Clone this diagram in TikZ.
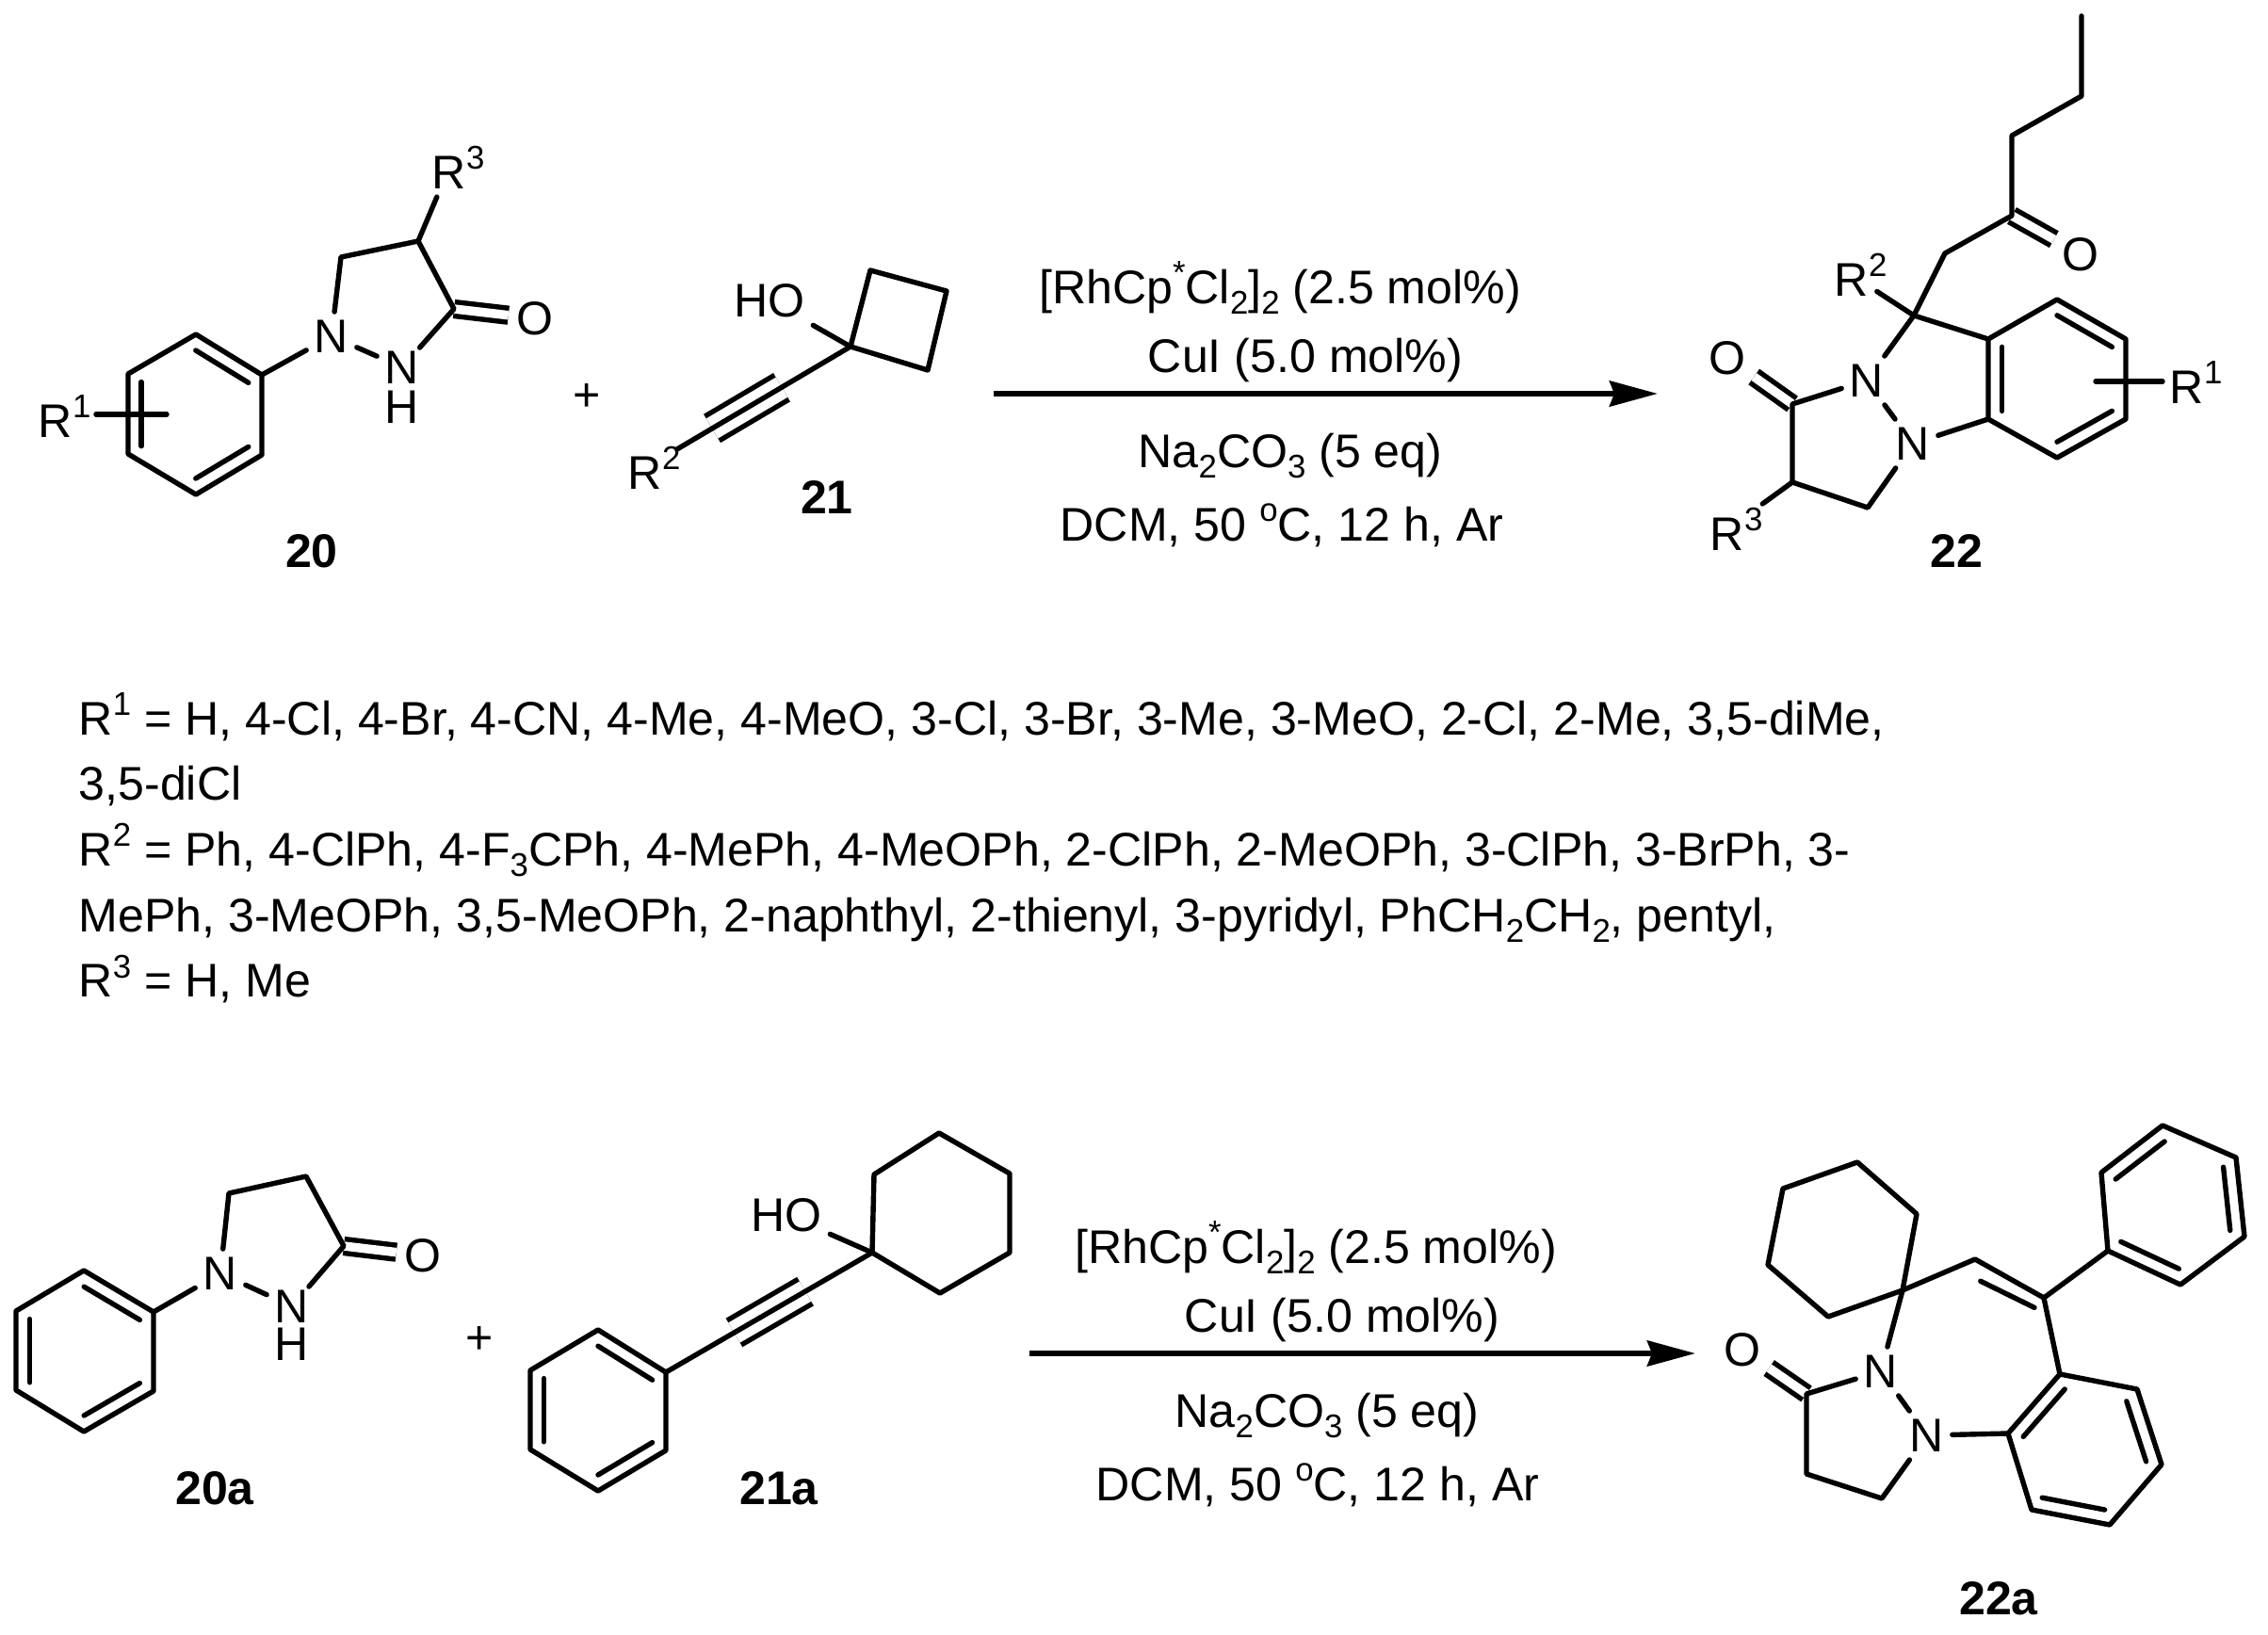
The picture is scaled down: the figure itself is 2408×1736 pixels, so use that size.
\documentclass[tikz,border=0pt]{standalone}
\usepackage{fontspec}
\setmainfont{Liberation Sans}
\usetikzlibrary{arrows.meta,calc}
\newcommand{\sups}[1]{\raisebox{.41em}{\fontsize{9.9}{9.9}\selectfont #1}}
\newcommand{\subs}[1]{\raisebox{-.22em}{\fontsize{9.9}{9.9}\selectfont #1}}
\newcommand{\rsup}[1]{R\rlap{\sups{#1}}}

\begin{document}
\begin{tikzpicture}
[x=.01cm,y=-.01cm,
every node/.style={font=\fontsize{14.25}{19.8}\selectfont,inner sep=.08cm},
bond/.style={draw,line width=.054cm,line cap=round,line join=round},
dbond/.style={bond,line cap=butt,double,double distance=.095cm},
tbond/.style={bond,line cap=butt,double,double distance=.245cm},
reaction/.style={draw,line width=.058cm,-{Stealth[length=.51cm,width=.27cm,inset=.05cm]}},
reagent/.style={anchor=base},
compound/.style={font=\fontsize{14.25}{19.8}\selectfont\bfseries},
amine/.style={inner ysep=.03cm},
hydrogen/.style={inner sep=0pt}]
\useasboundingbox (0,0) rectangle (2408,1736);

\node (R1a) at (59,442) {\rsup{1}};
\node (N1a) at (352,357) {N};
\node (N2a) at (427,390) [amine] {N};
\node (H2a) at (427,432) [hydrogen] {H};
\node (Oa) at (568,338) {O};
\node (R3a) at (477,178) {\rsup{3}};
\node (lab20) at (331,585) [compound] {20};
\path (208,355) coordinate (p1) (278,398) coordinate (p2) (278,483) coordinate (p3)
  (208,525) coordinate (p4) (136,482) coordinate (p5) (136,397) coordinate (p6)
  (207,440) coordinate (pc) (362,273) coordinate (q1) (444,256) coordinate (q2)
  (482,328) coordinate (q3) (102,440) coordinate (s1) (177,440) coordinate (s2);
\draw[dbond] (q3) -- (Oa);
\draw[bond] (p1) -- (p2) -- (p3) -- (p4) -- (p5) -- (p6) -- cycle;
\draw[bond] (p2) -- (N1a);
\draw[bond] (N1a) -- (N2a);
\draw[bond] (N2a) -- (q3) -- (q2) -- (q1) -- (N1a);
\draw[bond] (q2) -- (R3a);
\draw[bond] (s1) -- (s2);

\node (plus1) at (623,422) {+};
\node (R2b) at (685,497) {\rsup{2}};
\node (HOb) at (817,319) {HO};
\node (lab21) at (878,528) [compound] {21};
\path (903,368) coordinate (b1) (924,287) coordinate (b2) (1005,309) coordinate (b3)
  (985,393) coordinate (b4);
\draw[tbond] ($(b1)!.335!(R2b)$) -- ($(b1)!.674!(R2b)$);
\draw[bond,shorten >=.08cm] (b1) -- (R2b);
\draw[bond] (b1) -- (b2) -- (b3) -- (b4) -- cycle;
\draw[bond] (b1) -- (HOb);

\coordinate (arr1s) at (1055,418);
\coordinate (arr1e) at (1760,418);
\draw[reaction] (arr1s) -- (arr1e);
\node (rh1) at (1359,322) [reagent] {[RhCp\sups{*}Cl\subs{2}]\subs{2} (2.5 mol\%)};
\node (cu1) at (1386,395) [reagent] {CuI (5.0 mol\%)};
\node (na1) at (1370,496) [reagent] {Na\subs{2}CO\subs{3} (5 eq)};
\node (dcm1) at (1361,574) [reagent] {DCM, 50 \sups{o}C, 12 h, Ar};

\node (Oc) at (2209,270) {O};
\node (R2c) at (1966,292) {\rsup{2}};
\node (R1c) at (2322,406) {\rsup{1}};
\node (N1c) at (1982,404) {N};
\node (N2c) at (2031,471) {N};
\node (Od) at (1834,380) {O};
\node (R3c) at (1834,562) {\rsup{3}};
\node (lab22) at (2077,585) [compound] {22};
\path (2210,17) coordinate (c1) (2210,102) coordinate (c2) (2136,144) coordinate (c3)
  (2136,229) coordinate (c4) (2065,269) coordinate (c5) (2032,335) coordinate (c6)
  (2111,360) coordinate (d1) (2184,318) coordinate (d2) (2257,360) coordinate (d3)
  (2257,445) coordinate (d4) (2184,486) coordinate (d5) (2111,445) coordinate (d6)
  (2184,402) coordinate (dc) (1903,429) coordinate (e1) (1903,512) coordinate (e2)
  (1983,539) coordinate (e3) (2225,405) coordinate (s3) (2296,405) coordinate (s4);
\draw[dbond] (c4) -- (Oc);
\draw[dbond] (e1) -- (Od);
\draw[bond] (c1) -- (c2) -- (c3) -- (c4) -- (c5) -- (c6) -- (d1);
\draw[bond] (d1) -- (d2) -- (d3) -- (d4) -- (d5) -- (d6) -- cycle;
\draw[bond] (c6) -- (R2c);
\draw[bond] (c6) -- (N1c);
\draw[bond] (N1c) -- (N2c);
\draw[bond] (N2c) -- (d6);
\draw[bond] (N1c) -- (e1) -- (e2) -- (e3) -- (N2c);
\draw[bond,shorten >=.13cm] (e2) -- (R3c);
\draw[bond] (s3) -- (s4);

\node (txt) at (83,735) [anchor=north west,inner sep=0pt,align=left] {%
R\sups{1} = H, 4-Cl, 4-Br, 4-CN, 4-Me, 4-MeO, 3-Cl, 3-Br, 3-Me, 3-MeO, 2-Cl, 2-Me, 3,5-diMe,\\
3,5-diCl\\
R\sups{2} = Ph, 4-ClPh, 4-F\subs{3}CPh, 4-MePh, 4-MeOPh, 2-ClPh, 2-MeOPh, 3-ClPh, 3-BrPh, 3-\\
MePh, 3-MeOPh, 3,5-MeOPh, 2-naphthyl, 2-thienyl, 3-pyridyl, PhCH\subs{2}CH\subs{2}, pentyl,\\
R\sups{3} = H, Me};

\node (N1f) at (234,1352) {N};
\node (N2f) at (310,1387) [amine] {N};
\node (H2f) at (310,1427) [hydrogen] {H};
\node (Of) at (449,1333) {O};
\node (lab20a) at (228,1580) [compound] {20a};
\path (89,1349) coordinate (f1) (163,1393) coordinate (f2) (163,1477) coordinate (f3)
  (89,1520) coordinate (f4) (17,1476) coordinate (f5) (17,1392) coordinate (f6)
  (90,1435) coordinate (fc) (243,1267) coordinate (g1) (325,1249) coordinate (g2)
  (365,1323) coordinate (g3);
\draw[dbond] (g3) -- (Of);
\draw[bond] (f1) -- (f2) -- (f3) -- (f4) -- (f5) -- (f6) -- cycle;
\draw[bond] (f2) -- (N1f);
\draw[bond] (N1f) -- (N2f);
\draw[bond] (N2f) -- (g3) -- (g2) -- (g1) -- (N1f);

\node (plus2) at (509,1423) {+};
\node (HOh) at (835,1290) {HO};
\node (lab21a) at (827,1580) [compound] {21a};
\path (635,1412) coordinate (h1) (707,1457) coordinate (h2) (707,1540) coordinate (h3)
  (635,1583) coordinate (h4) (563,1539) coordinate (h5) (563,1455) coordinate (h6)
  (635,1498) coordinate (hc) (926,1330) coordinate (k1) (928,1247) coordinate (k2)
  (997,1203) coordinate (k3) (1072,1246) coordinate (k4) (1072,1330) coordinate (k5)
  (998,1373) coordinate (k6);
\draw[tbond] ($(k1)!.324!(h2)$) -- ($(k1)!.669!(h2)$);
\draw[bond] (h1) -- (h2) -- (h3) -- (h4) -- (h5) -- (h6) -- cycle;
\draw[bond] (h2) -- (k1);
\draw[bond] (k1) -- (k2) -- (k3) -- (k4) -- (k5) -- (k6) -- cycle;
\draw[bond] (k1) -- (HOh);

\coordinate (arr2s) at (1093,1437);
\coordinate (arr2e) at (1800,1437);
\draw[reaction] (arr2s) -- (arr2e);
\node (rh2) at (1397,1341) [reagent] {[RhCp\sups{*}Cl\subs{2}]\subs{2} (2.5 mol\%)};
\node (cu2) at (1425,1414) [reagent] {CuI (5.0 mol\%)};
\node (na2) at (1409,1515) [reagent] {Na\subs{2}CO\subs{3} (5 eq)};
\node (dcm2) at (1399,1593) [reagent] {DCM, 50 \sups{o}C, 12 h, Ar};

\node (N1m) at (1997,1456) {N};
\node (N2m) at (2046,1524) {N};
\node (Om) at (1850,1433) {O};
\node (lab22a) at (2122,1697) [compound] {22a};
\path (2020,1370) coordinate (m1) (2035,1289) coordinate (m2) (1972,1234) coordinate (m3)
  (1893,1262) coordinate (m4) (1877,1343) coordinate (m5) (1941,1398) coordinate (m6)
  (2097,1337) coordinate (n1) (2170,1378) coordinate (n2) (2238,1328) coordinate (t1)
  (2231,1245) coordinate (t2) (2296,1195) coordinate (t3) (2374,1229) coordinate (t4)
  (2383,1313) coordinate (t5) (2315,1364) coordinate (t6) (2307,1280) coordinate (tc)
  (2187,1459) coordinate (u1) (2269,1475) coordinate (u2) (2295,1555) coordinate (u3)
  (2240,1619) coordinate (u4) (2157,1603) coordinate (u5) (2132,1522) coordinate (u6)
  (2213,1539) coordinate (uc) (1918,1480) coordinate (v1) (1918,1565) coordinate (v2)
  (1998,1591) coordinate (v3);
\draw[dbond] (v1) -- (Om);
\draw[bond] (m1) -- (m2) -- (m3) -- (m4) -- (m5) -- (m6) -- cycle;
\draw[bond] (m1) -- (N1m);
\draw[bond] (m1) -- (n1) -- (n2) -- (t1);
\draw[bond] (t1) -- (t2) -- (t3) -- (t4) -- (t5) -- (t6) -- cycle;
\draw[bond] (n2) -- (u1);
\draw[bond] (u1) -- (u2) -- (u3) -- (u4) -- (u5) -- (u6) -- cycle;
\draw[bond] (N1m) -- (N2m);
\draw[bond] (N2m) -- (u6);
\draw[bond] (N1m) -- (v1) -- (v2) -- (v3) -- (N2m);

\foreach \i/\j/\m in {p1/p2/pc,p3/p4/pc,p5/p6/pc,d1/d6/dc,d2/d3/dc,d4/d5/dc,
  f1/f2/fc,f3/f4/fc,f5/f6/fc,h1/h2/hc,h3/h4/hc,h5/h6/hc,t2/t3/tc,t4/t5/tc,t6/t1/tc,
  u1/u6/uc,u2/u3/uc,u4/u5/uc}
  \draw[bond] ($(\i)!.2!(\m)$) -- ($(\j)!.2!(\m)$);
\coordinate (nc) at (2120,1430);
\draw[bond] ($(n1)!.25!(nc)$) -- ($(n2)!.2!(nc)$);
\end{tikzpicture}
\end{document}
